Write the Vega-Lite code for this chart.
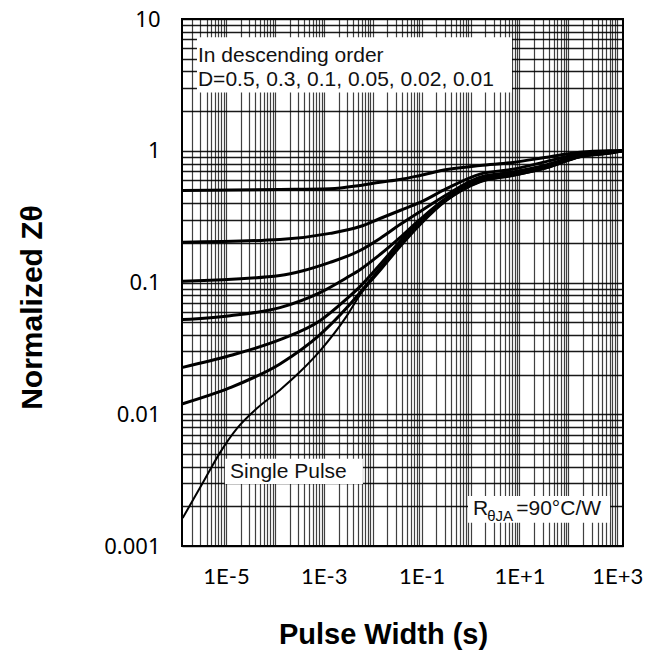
{
  "$schema": "https://vega.github.io/schema/vega-lite/v6.json",
  "width": 441,
  "height": 527,
  "autosize": {"type": "none"},
  "padding": {"left": 182, "top": 19, "right": 32, "bottom": 107},
  "background": "white",
  "config": {"view": {"stroke": "black", "strokeWidth": 2}},
  "datasets": {
    "curves": [
      {"s": "D0.5", "t": 1.3e-6, "z": 0.5}, {"s": "D0.5", "t": 1.27e-4, "z": 0.508}, {"s": "D0.5", "t": 1.34e-3, "z": 0.514}, {"s": "D0.5", "t": 5.5e-3, "z": 0.545}, {"s": "D0.5", "t": 0.0141, "z": 0.577}, {"s": "D0.5", "t": 0.0361, "z": 0.605}, {"s": "D0.5", "t": 0.0927, "z": 0.649}, {"s": "D0.5", "t": 0.33, "z": 0.72}, {"s": "D0.5", "t": 1.56, "z": 0.773}, {"s": "D0.5", "t": 7.4, "z": 0.815}, {"s": "D0.5", "t": 36.6, "z": 0.894}, {"s": "D0.5", "t": 173, "z": 0.975}, {"s": "D0.5", "t": 713, "z": 0.998}, {"s": "D0.5", "t": 1313, "z": 1.0},
      {"s": "D0.3", "t": 1.3e-6, "z": 0.202}, {"s": "D0.3", "t": 1.27e-4, "z": 0.212}, {"s": "D0.3", "t": 1.34e-3, "z": 0.236}, {"s": "D0.3", "t": 5.5e-3, "z": 0.266}, {"s": "D0.3", "t": 0.0141, "z": 0.306}, {"s": "D0.3", "t": 0.0361, "z": 0.352}, {"s": "D0.3", "t": 0.0927, "z": 0.405}, {"s": "D0.3", "t": 0.33, "z": 0.518}, {"s": "D0.3", "t": 1.56, "z": 0.665}, {"s": "D0.3", "t": 7.4, "z": 0.725}, {"s": "D0.3", "t": 36.6, "z": 0.83}, {"s": "D0.3", "t": 173, "z": 0.95}, {"s": "D0.3", "t": 713, "z": 0.99}, {"s": "D0.3", "t": 1313, "z": 1.0},
      {"s": "D0.1", "t": 1.3e-6, "z": 0.102}, {"s": "D0.1", "t": 1.27e-4, "z": 0.113}, {"s": "D0.1", "t": 1.34e-3, "z": 0.142}, {"s": "D0.1", "t": 5.5e-3, "z": 0.175}, {"s": "D0.1", "t": 0.0141, "z": 0.216}, {"s": "D0.1", "t": 0.0361, "z": 0.275}, {"s": "D0.1", "t": 0.0927, "z": 0.345}, {"s": "D0.1", "t": 0.33, "z": 0.465}, {"s": "D0.1", "t": 1.56, "z": 0.63}, {"s": "D0.1", "t": 7.4, "z": 0.69}, {"s": "D0.1", "t": 36.6, "z": 0.785}, {"s": "D0.1", "t": 173, "z": 0.93}, {"s": "D0.1", "t": 713, "z": 0.98}, {"s": "D0.1", "t": 1313, "z": 1.0},
      {"s": "D0.05", "t": 1.3e-6, "z": 0.0523}, {"s": "D0.05", "t": 1.21e-5, "z": 0.056}, {"s": "D0.05", "t": 1.27e-4, "z": 0.0645}, {"s": "D0.05", "t": 8.36e-4, "z": 0.0838}, {"s": "D0.05", "t": 2.98e-3, "z": 0.109}, {"s": "D0.05", "t": 5.5e-3, "z": 0.125}, {"s": "D0.05", "t": 0.0141, "z": 0.163}, {"s": "D0.05", "t": 0.0361, "z": 0.219}, {"s": "D0.05", "t": 0.0927, "z": 0.301}, {"s": "D0.05", "t": 0.33, "z": 0.442}, {"s": "D0.05", "t": 1.56, "z": 0.605}, {"s": "D0.05", "t": 7.4, "z": 0.67}, {"s": "D0.05", "t": 36.6, "z": 0.765}, {"s": "D0.05", "t": 173, "z": 0.915}, {"s": "D0.05", "t": 713, "z": 0.97}, {"s": "D0.05", "t": 1313, "z": 1.0},
      {"s": "D0.02", "t": 1.3e-6, "z": 0.0227}, {"s": "D0.02", "t": 1.21e-5, "z": 0.0279}, {"s": "D0.02", "t": 1.27e-4, "z": 0.0368}, {"s": "D0.02", "t": 8.36e-4, "z": 0.0513}, {"s": "D0.02", "t": 2.98e-3, "z": 0.0755}, {"s": "D0.02", "t": 5.5e-3, "z": 0.0931}, {"s": "D0.02", "t": 0.0141, "z": 0.1368}, {"s": "D0.02", "t": 0.0361, "z": 0.2046}, {"s": "D0.02", "t": 0.0927, "z": 0.295}, {"s": "D0.02", "t": 0.33, "z": 0.434}, {"s": "D0.02", "t": 1.56, "z": 0.596}, {"s": "D0.02", "t": 7.4, "z": 0.66}, {"s": "D0.02", "t": 36.6, "z": 0.755}, {"s": "D0.02", "t": 173, "z": 0.905}, {"s": "D0.02", "t": 713, "z": 0.965}, {"s": "D0.02", "t": 1313, "z": 1.0},
      {"s": "D0.01", "t": 1.3e-6, "z": 0.012}, {"s": "D0.01", "t": 1.21e-5, "z": 0.0159}, {"s": "D0.01", "t": 1.27e-4, "z": 0.0241}, {"s": "D0.01", "t": 8.36e-4, "z": 0.0402}, {"s": "D0.01", "t": 2.98e-3, "z": 0.0645}, {"s": "D0.01", "t": 5.5e-3, "z": 0.0838}, {"s": "D0.01", "t": 0.0141, "z": 0.1276}, {"s": "D0.01", "t": 0.0361, "z": 0.194}, {"s": "D0.01", "t": 0.0927, "z": 0.285}, {"s": "D0.01", "t": 0.33, "z": 0.427}, {"s": "D0.01", "t": 1.56, "z": 0.585}, {"s": "D0.01", "t": 7.4, "z": 0.652}, {"s": "D0.01", "t": 36.6, "z": 0.745}, {"s": "D0.01", "t": 173, "z": 0.9}, {"s": "D0.01", "t": 713, "z": 0.96}, {"s": "D0.01", "t": 1313, "z": 1.0}
    ],
    "single": [
      {"s": "SP", "t": 1.3e-6, "z": 0.00163}, {"s": "SP", "t": 3.38e-6, "z": 0.00303}, {"s": "SP", "t": 7.5e-6, "z": 0.00509}, {"s": "SP", "t": 1.68e-5, "z": 0.0078}, {"s": "SP", "t": 4.3e-5, "z": 0.0111}, {"s": "SP", "t": 1.27e-4, "z": 0.0153}, {"s": "SP", "t": 3.26e-4, "z": 0.021}, {"s": "SP", "t": 8.36e-4, "z": 0.0303}, {"s": "SP", "t": 2.98e-3, "z": 0.056}, {"s": "SP", "t": 5.5e-3, "z": 0.0805}, {"s": "SP", "t": 0.0141, "z": 0.122}, {"s": "SP", "t": 0.0361, "z": 0.185}, {"s": "SP", "t": 0.0927, "z": 0.272}, {"s": "SP", "t": 0.33, "z": 0.419}, {"s": "SP", "t": 1.56, "z": 0.577}, {"s": "SP", "t": 7.4, "z": 0.645}, {"s": "SP", "t": 36.6, "z": 0.74}, {"s": "SP", "t": 173, "z": 0.895}, {"s": "SP", "t": 713, "z": 0.958}, {"s": "SP", "t": 1313, "z": 1.0}
    ],
    "boxes": [
      {"t": 2.55e-6, "t2": 7.05, "z": 2.77, "z2": 7.26},
      {"t": 9.5e-6, "t2": 6.3e-3, "z": 0.00296, "z2": 0.00459},
      {"t": 0.889, "t2": 713, "z": 0.0015, "z2": 0.0024}
    ],
    "notes": [
      {"label": "In descending order", "t": 2.67e-6, "z": 4.69, "kind": "main"},
      {"label": "D=0.5, 0.3, 0.1, 0.05, 0.02, 0.01", "t": 2.67e-6, "z": 3.08, "kind": "main"},
      {"label": "Single Pulse", "t": 1.21e-5, "z": 0.00329, "kind": "main"},
      {"label": "R", "t": 1.12, "z": 0.00172, "kind": "main"},
      {"label": "θJA", "t": 2.2, "z": 0.00155, "kind": "sub"},
      {"label": "=90°C/W", "t": 8.6, "z": 0.00172, "kind": "main"}
    ]
  },
  "layer": [
    {
      "data": {"name": "curves"},
      "mark": {"type": "line", "color": "black", "strokeWidth": 3, "interpolate": "monotone", "clip": true},
      "encoding": {
        "x": {
          "field": "t", "type": "quantitative",
          "scale": {"type": "log", "domain": [1.26e-6, 1313], "nice": false},
          "axis": {
            "title": "Pulse Width (s)",
            "values": [2e-6, 3e-6, 4e-6, 5e-6, 6e-6, 7e-6, 8e-6, 9e-6, 1e-5, 2e-5, 3e-5, 4e-5, 5e-5, 6e-5, 7e-5, 8e-5, 9e-5, 1e-4, 2e-4, 3e-4, 4e-4, 5e-4, 6e-4, 7e-4, 8e-4, 9e-4, 0.001, 0.002, 0.003, 0.004, 0.005, 0.006, 0.007, 0.008, 0.009, 0.01, 0.02, 0.03, 0.04, 0.05, 0.06, 0.07, 0.08, 0.09, 0.1, 0.2, 0.3, 0.4, 0.5, 0.6, 0.7, 0.8, 0.9, 1, 2, 3, 4, 5, 6, 7, 8, 9, 10, 20, 30, 40, 50, 60, 70, 80, 90, 100, 200, 300, 400, 500, 600, 700, 800, 900, 1000],
            "labelExpr": "(abs(log(datum.value)/LN10 - round(log(datum.value)/LN10)) < 0.001 && abs(round(log(datum.value)/LN10)) % 2 == 1) ? '1E' + (round(log(datum.value)/LN10) >= 0 ? '+' : '') + round(log(datum.value)/LN10) : ''",
            "labelOverlap": false, "labelFlush": false,
            "labelFont": "Lato", "labelFontSize": 22, "labelColor": "black", "labelPadding": 20,
            "ticks": false, "tickSize": 0, "domain": false,
            "grid": true, "gridColor": "black", "gridWidth": 1.2, "gridOpacity": 0.75,
            "titleFont": "Liberation Sans", "titleFontSize": 29, "titleFontWeight": "bold", "titleColor": "black",
            "titleX": 201, "titleY": 97, "titleBaseline": "alphabetic", "titleAlign": "center"
          }
        },
        "y": {
          "field": "z", "type": "quantitative",
          "scale": {"type": "log", "domain": [0.001, 10], "nice": false},
          "axis": {
            "title": "Normalized Zθ",
            "values": [0.001, 0.002, 0.003, 0.004, 0.005, 0.006, 0.007, 0.008, 0.009, 0.01, 0.02, 0.03, 0.04, 0.05, 0.06, 0.07, 0.08, 0.09, 0.1, 0.2, 0.3, 0.4, 0.5, 0.6, 0.7, 0.8, 0.9, 1, 2, 3, 4, 5, 6, 7, 8, 9, 10],
            "labelExpr": "abs(log(datum.value)/LN10 - round(log(datum.value)/LN10)) < 0.001 ? format(datum.value, '~g') : ''",
            "labelOverlap": false, "labelFlush": false,
            "labelFont": "Noto Sans", "labelFontSize": 22, "labelColor": "black", "labelPadding": 22,
            "ticks": false, "tickSize": 0, "domain": false,
            "grid": true, "gridColor": "black", "gridWidth": 1.5, "gridOpacity": 0.9,
            "titleFont": "Liberation Sans", "titleFontSize": 30, "titleFontWeight": "bold", "titleColor": "black",
            "titleX": -141, "titleY": 288, "titleBaseline": "alphabetic", "titleAlign": "center", "titleAngle": 270
          }
        },
        "detail": {"field": "s", "type": "nominal"}
      }
    },
    {
      "data": {"name": "single"},
      "mark": {"type": "line", "color": "black", "strokeWidth": 2, "interpolate": "monotone", "clip": true},
      "encoding": {
        "x": {"field": "t", "type": "quantitative"},
        "y": {"field": "z", "type": "quantitative"}
      }
    },
    {
      "data": {"name": "boxes"},
      "mark": {"type": "rect", "color": "white", "opacity": 1},
      "encoding": {
        "x": {"field": "t", "type": "quantitative"},
        "x2": {"field": "t2"},
        "y": {"field": "z", "type": "quantitative"},
        "y2": {"field": "z2"}
      }
    },
    {
      "data": {"name": "notes"},
      "transform": [{"filter": "datum.kind == 'main'"}],
      "mark": {"type": "text", "align": "left", "baseline": "alphabetic", "font": "Liberation Sans", "fontSize": 21, "color": "#111"},
      "encoding": {
        "x": {"field": "t", "type": "quantitative"},
        "y": {"field": "z", "type": "quantitative"},
        "text": {"field": "label"}
      }
    },
    {
      "data": {"name": "notes"},
      "transform": [{"filter": "datum.kind == 'sub'"}],
      "mark": {"type": "text", "align": "left", "baseline": "alphabetic", "font": "Liberation Sans", "fontSize": 15, "color": "#111"},
      "encoding": {
        "x": {"field": "t", "type": "quantitative"},
        "y": {"field": "z", "type": "quantitative"},
        "text": {"field": "label"}
      }
    }
  ]
}
